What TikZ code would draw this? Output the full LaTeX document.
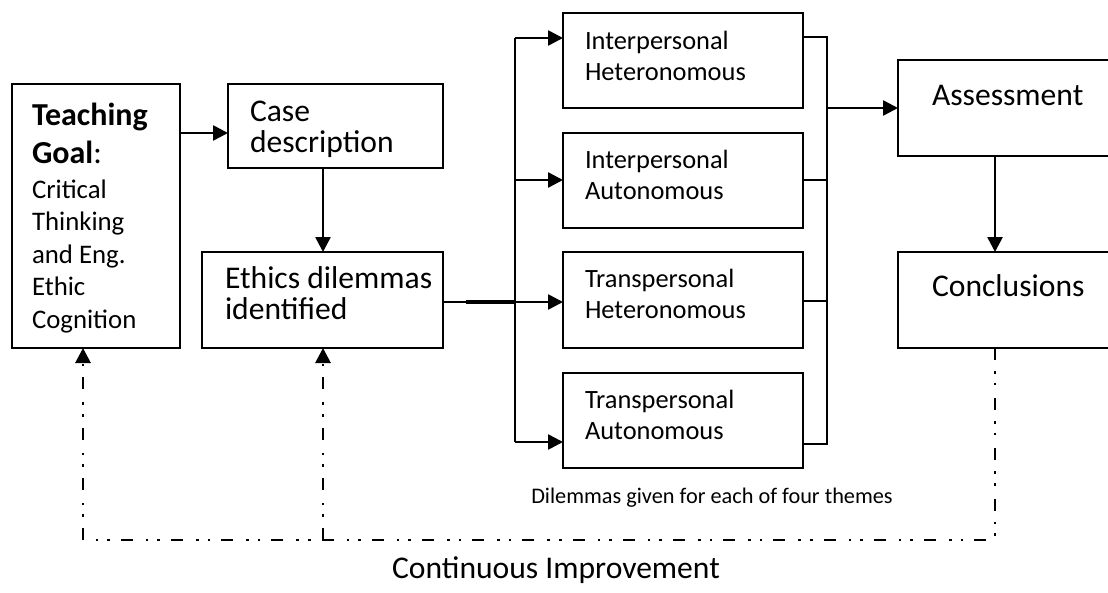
\documentclass[tikz,border=0pt]{standalone}
\usepackage{fontspec}
\setmainfont{Carlito}
\usetikzlibrary{arrows.meta,calc}
\newcommand\BigF{\fontsize{31.6}{31}\selectfont}
\newcommand\MidF{\fontsize{26.4}{31}\selectfont}
\newcommand\TcF{\fontsize{26.8}{31}\selectfont}
\newcommand\SmF{\fontsize{22.3}{26}\selectfont}
\newcommand\TgF{\fontsize{32}{36}\selectfont\bfseries}
\begin{document}
\begin{tikzpicture}[x=1pt,y=-1pt,
  box/.style={draw, line width=1.8pt, inner sep=0pt, outer sep=0pt, anchor=north west},
  txt/.style={inner sep=0pt, outer sep=0pt, anchor=base west},
  arr/.style={line width=2.6pt, -{Triangle[length=15pt,width=15pt]}},
  ln/.style={line width=2pt},
  dd/.style={line width=2.8pt, dash pattern=on 12pt off 11pt on 2.6pt off 9pt on 2.6pt off 13pt},
  dda/.style={dd, -{Triangle[length=15pt,width=15pt]}}]
\useasboundingbox (0,0) rectangle (1108,592);
% boxes
\node[box, minimum width=168pt, minimum height=264pt] (tg) at (12,84) {};
\node[box, minimum width=215pt, minimum height=84pt] (cd) at (228,84) {};
\node[box, minimum width=241pt, minimum height=96pt] (ed) at (202,252) {};
\node[box, minimum width=240pt, minimum height=95pt] (m1) at (563,13) {};
\node[box, minimum width=240pt, minimum height=95pt] (m2) at (563,133) {};
\node[box, minimum width=240pt, minimum height=96pt] (m3) at (563,252) {};
\node[box, minimum width=240pt, minimum height=95pt] (m4) at (563,373) {};
\node[box, minimum width=220pt, minimum height=96pt] (as) at (898,60) {};
\node[box, minimum width=220pt, minimum height=96pt] (co) at (898,252) {};
% texts (multi-line nodes: base = last line)
\node[txt, font=\TgF] (tg1) at (32,125) {Teaching};
\node[txt, font=\TgF] (tg2) at (32,163) {Goal\normalfont:};
\foreach \t/\y [count=\i] in {Critical/198, Thinking/230.5, and Eng./263, Ethic/295.5, Cognition/328}
  \node[txt, font=\TcF] (tgl\i) at (32,\y) {\t};
\node[txt, font=\BigF, align=left] (cdt) at (250,152) {Case\\description};
\node[txt, font=\BigF, align=left] (edt) at (225,319) {Ethics dilemmas\\identified};
\node[txt, font=\MidF, align=left] (m1t) at (585,80) {Interpersonal\\Heteronomous};
\node[txt, font=\MidF, align=left] (m2t) at (585,199) {Interpersonal\\Autonomous};
\node[txt, font=\MidF, align=left] (m3t) at (585,318) {Transpersonal\\Heteronomous};
\node[txt, font=\MidF, align=left] (m4t) at (585,439) {Transpersonal\\Autonomous};
\node[txt, font=\BigF] (ast) at (932,105) {Assessment};
\node[txt, font=\BigF] (cot) at (932,296) {Conclusions};
\node[font=\SmF, inner sep=0pt, anchor=base] (lab1) at (712,503) {Dilemmas given for each of four themes};
\node[font=\BigF, inner sep=0pt, anchor=base] (lab2) at (556,578) {Continuous Improvement};
% connector points
\coordinate (a1) at ($(tg.north east)+(0,49)$);
\coordinate (a2) at ($(cd.north west)+(0,49)$);
\coordinate (c1) at ($(cd.south west)+(95,0)$);
\coordinate (c2) at ($(ed.north west)+(121,0)$);
\coordinate (e0) at ($(ed.north east)+(0,50)$);
\coordinate (j0) at ($(e0)+(23,0)$);
\coordinate (br) at ($(e0)+(72,0)$);
\coordinate (bt) at ($(m1.north west)+(-48,25)$);
\coordinate (bb) at ($(m4.north west)+(-48,69)$);
\coordinate (b1) at ($(m1.north west)+(0,25)$);
\coordinate (b2s) at ($(m2.north west)+(-48,47)$);
\coordinate (b2) at ($(m2.north west)+(0,47)$);
\coordinate (b3) at ($(m3.north west)+(0,50)$);
\coordinate (b4) at ($(m4.north west)+(0,69)$);
\coordinate (r1) at ($(m1.north east)+(0,24)$);
\coordinate (rt) at ($(m1.north east)+(24,24)$);
\coordinate (r2) at ($(m2.north east)+(0,47)$);
\coordinate (r2b) at ($(m2.north east)+(24,47)$);
\coordinate (r3) at ($(m3.north east)+(0,49)$);
\coordinate (r3b) at ($(m3.north east)+(24,49)$);
\coordinate (rb) at ($(m4.north east)+(24,71)$);
\coordinate (r4) at ($(m4.north east)+(0,71)$);
\coordinate (ra) at ($(m1.north east)+(24,95)$);
\coordinate (s1) at ($(as.south west)+(97,0)$);
\coordinate (s2) at ($(co.north west)+(97,0)$);
\coordinate (d0) at ($(co.south west)+(97,0)$);
\coordinate (dr) at ($(d0)+(0,192)$);
\coordinate (dl) at ($(tg.south west)+(71,192)$);
\coordinate (dlt) at ($(tg.south west)+(71,0)$);
\coordinate (dm) at ($(ed.south west)+(121,192)$);
\coordinate (dmt) at ($(ed.south west)+(121,0)$);
% connectors
\draw[arr] (a1) -- (a2);
\draw[arr] (c1) -- (c2);
\draw[line width=1.4pt] (e0) -- (j0);
\draw[line width=4pt] (j0) -- (br);
\draw[line width=2.6pt] (bt) -- (bb);
\draw[arr] (bt) -- (b1);
\draw[arr] (b2s) -- (b2);
\draw[arr] (br) -- (b3);
\draw[arr] (bb) -- (b4);
\draw[ln] (r1) -- (rt) -- (rb) -- (r4);
\draw[ln] (r2) -- (r2b);
\draw[ln] (r3) -- (r3b);
\draw[arr] (ra) -- (as.west);
\draw[arr] (s1) -- (s2);
\draw[dd] (d0) -- (dr) -- (dl);
\draw[dda] (dl) -- (dlt);
\draw[dda] (dm) -- (dmt);
\end{tikzpicture}
\end{document}
